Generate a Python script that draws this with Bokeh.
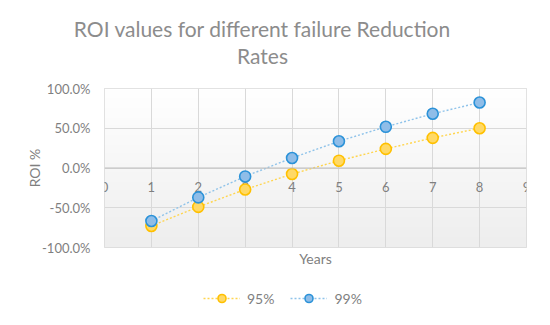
import numpy as np
from bokeh.plotting import figure
from bokeh.layouts import column
from bokeh.models import (FixedTicker, NumeralTickFormatter, Label, Span,
                          Legend, LegendItem, Range1d)
from bokeh.embed import file_html
from bokeh.resources import INLINE

years = [1, 2, 3, 4, 5, 6, 7, 8]
roi_95 = [-0.729, -0.489, -0.270, -0.076, 0.092, 0.240, 0.379, 0.500]
roi_99 = [-0.667, -0.370, -0.106, 0.126, 0.336, 0.518, 0.682, 0.824]
x_ticks = [0, 1, 2, 3, 4, 5, 6, 7, 8, 9]
x_tick_labels = [str(v) for v in x_ticks]
y_ticks = [-1.0, -0.5, 0.0, 0.5, 1.0]
title_lines = ["ROI values for different failure Reduction", "Rates"]
series_names = ["95%", "99%"]

FONT = "Lato"
GRAY = "#7f7f7f"
TICK_SIZE = "13px"
x0, x1 = x_ticks[0], x_ticks[-1]
y0, y1 = y_ticks[0], y_ticks[-1]

p = figure(width=550, height=285, frame_width=422, frame_height=159,
           min_border_left=104, min_border_right=24, min_border_top=88,
           min_border_bottom=38, output_backend="svg", toolbar_location=None,
           x_range=Range1d(x0, x1), y_range=Range1d(y0, y1), title=None)
p.outline_line_color = "#d9d9d9"
p.background_fill_color = "white"
p.border_fill_color = "white"

# subtle vertical gradient background of the plot area
n = 64
shade = np.linspace(238, 255, n).astype(np.uint8)
img = np.empty((n, 1), dtype=np.uint32)
view = img.view(dtype=np.uint8).reshape((n, 1, 4))
view[:, 0, 0] = shade
view[:, 0, 1] = shade
view[:, 0, 2] = shade
view[:, 0, 3] = 255
p.image_rgba(image=[img], x=x0, y=y0, dw=x1 - x0, dh=y1 - y0, level="image")

# grids
p.xgrid.ticker = FixedTicker(ticks=x_ticks)
p.ygrid.ticker = FixedTicker(ticks=y_ticks)
p.xgrid.grid_line_color = "#d9d9d9"
p.ygrid.grid_line_color = "#d9d9d9"
p.xgrid.level = "underlay"
p.ygrid.level = "underlay"

# horizontal axis line crossing at y = 0
p.add_layout(Span(location=0, dimension="width", line_color="#bfbfbf", line_width=1))

# y axis
ya = p.yaxis[0]
ya.ticker = FixedTicker(ticks=y_ticks)
ya.formatter = NumeralTickFormatter(format="0.0%")
ya.axis_line_color = None
ya.major_tick_line_color = None
ya.minor_tick_line_color = None
ya.major_label_text_font = FONT
ya.major_label_text_font_size = TICK_SIZE
ya.major_label_text_color = GRAY
ya.major_label_standoff = 8
ya.axis_label = "ROI %"
ya.axis_label_text_font = FONT
ya.axis_label_text_font_size = "14px"
ya.axis_label_text_font_style = "normal"
ya.axis_label_text_color = GRAY
ya.axis_label_standoff = -4

# bottom axis: title only
xa = p.xaxis[0]
xa.ticker = FixedTicker(ticks=[])
xa.axis_line_color = None
xa.major_tick_line_color = None
xa.minor_tick_line_color = None
xa.major_label_standoff = 0
xa.axis_label = "Years"
xa.axis_label_text_font = FONT
xa.axis_label_text_font_size = "14px"
xa.axis_label_text_font_style = "normal"
xa.axis_label_text_color = GRAY
xa.axis_label_standoff = 2

# x tick labels sitting just under the zero line
p.text(x=x_ticks, y=[0] * len(x_ticks), text=x_tick_labels, text_align="center",
       text_baseline="middle", y_offset=19, text_font={"value": FONT},
       text_font_size={"value": TICK_SIZE}, text_color=GRAY)

c95_line, c95_fill, c95_edge = "#ffd54f", "#ffd966", "#ffc000"
c99_line, c99_fill, c99_edge = "#8fc3ea", "#8fbde8", "#2b92d8"
line_kw95 = dict(line_color=c95_line, line_width=1.4, line_dash="2 2")
mark_kw95 = dict(size=11, fill_color=c95_fill, line_color=c95_edge, line_width=1.6)
line_kw99 = dict(line_color=c99_line, line_width=1.4, line_dash="2 2")
mark_kw99 = dict(size=11, fill_color=c99_fill, line_color=c99_edge, line_width=1.6)

p.line(years, roi_95, **line_kw95)
p.scatter(years, roi_95, **mark_kw95)
p.line(years, roi_99, **line_kw99)
p.scatter(years, roi_99, **mark_kw99)

# title lines as labels in the panel above the plot area
for txt, ty in zip(title_lines, [60, 8]):
    p.add_layout(Label(x=158, y=ty, x_units="screen", y_units="screen",
                       text=txt, text_align="center", text_baseline="middle",
                       text_font=FONT, text_font_size="21px",
                       text_color="#8c8c8c"), "above")

# ---- legend strip under the chart (series drawn out of view, keys only)
lg = figure(width=550, height=40, frame_width=422, frame_height=40,
            min_border_left=104, min_border_right=24, min_border_top=0,
            min_border_bottom=0, output_backend="svg", toolbar_location=None,
            x_axis_location=None, y_axis_location=None,
            x_range=Range1d(x1 + 10, x1 + 11), y_range=Range1d(y0, y1), title=None)
lg.grid.visible = False
lg.outline_line_color = None
lg.background_fill_color = "white"
lg.border_fill_color = "white"
k95l = lg.line(years, roi_95, **line_kw95)
k95m = lg.scatter(years, roi_95, **mark_kw95)
k99l = lg.line(years, roi_99, **line_kw99)
k99m = lg.scatter(years, roi_99, **mark_kw99)

legend = Legend(items=[LegendItem(label=series_names[0], renderers=[k95l, k95m]),
                       LegendItem(label=series_names[1], renderers=[k99l, k99m])],
                orientation="horizontal", location=(99, 17),
                glyph_width=37, glyph_height=20, label_height=20,
                label_standoff=7, spacing=16,
                label_text_font=FONT, label_text_font_size="14px",
                label_text_color=GRAY, background_fill_alpha=0,
                border_line_color=None, padding=0, margin=0)
lg.add_layout(legend, "center")

open("out.html", "w").write(file_html(column(p, lg, spacing=0), INLINE))
